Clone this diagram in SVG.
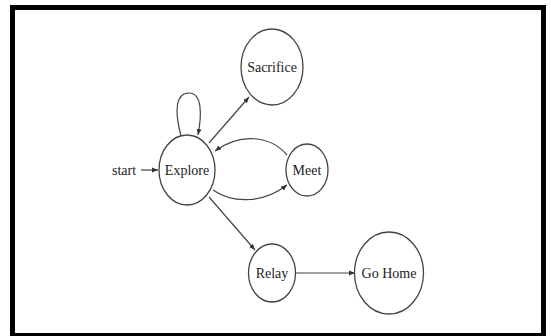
<svg xmlns="http://www.w3.org/2000/svg" width="551" height="336" viewBox="0 0 551 336">
<style>
.node ellipse{fill:#fff;stroke:#444;stroke-width:1.3}
.lbl{font-family:"Liberation Serif","Times New Roman",serif;font-size:14px;fill:#222;text-anchor:middle}
.edge{fill:none;stroke:#444;stroke-width:1.2;marker-end:url(#arr)}
</style>
<defs>
<marker id="arr" markerUnits="userSpaceOnUse" markerWidth="8" markerHeight="6" refX="6" refY="3" orient="auto">
<path d="M0,0.5 L6,3 L0,5.5 Z" fill="#333"/>
</marker>
</defs>
<rect x="0" y="0" width="551" height="336" fill="#fff"/>
<rect x="12.5" y="7.5" width="531" height="328" fill="none" stroke="#000" stroke-width="5"/>
<g id="connectors">
<path class="edge" d="M141,170 L158,170"/>
<path class="edge" d="M181,136 C174,110 176,93 189,93 C202,93 202,114 198,135"/>
<path class="edge" d="M209,143 L249,97"/>
<path class="edge" d="M287,155 C270,135 240,133 215,151"/>
<path class="edge" d="M213,190 C235,205 265,202 287,185"/>
<path class="edge" d="M209,197 L255,250"/>
<path class="edge" d="M296,273 L355,273"/>
</g>
<text class="lbl" x="124" y="175">start</text>
<g id="explore" class="node"><ellipse cx="187" cy="170" rx="28" ry="35"/><text class="lbl" x="187" y="175">Explore</text></g>
<g id="sacrifice" class="node"><ellipse cx="272" cy="67" rx="31" ry="38"/><text class="lbl" x="272" y="72">Sacrifice</text></g>
<g id="meet" class="node"><ellipse cx="307" cy="170" rx="21" ry="26"/><text class="lbl" x="307" y="175">Meet</text></g>
<g id="relay" class="node"><ellipse cx="272" cy="273" rx="23.5" ry="29"/><text class="lbl" x="272" y="278">Relay</text></g>
<g id="gohome" class="node"><ellipse cx="389" cy="273" rx="34.5" ry="41"/><text class="lbl" x="389" y="278">Go Home</text></g>
</svg>
